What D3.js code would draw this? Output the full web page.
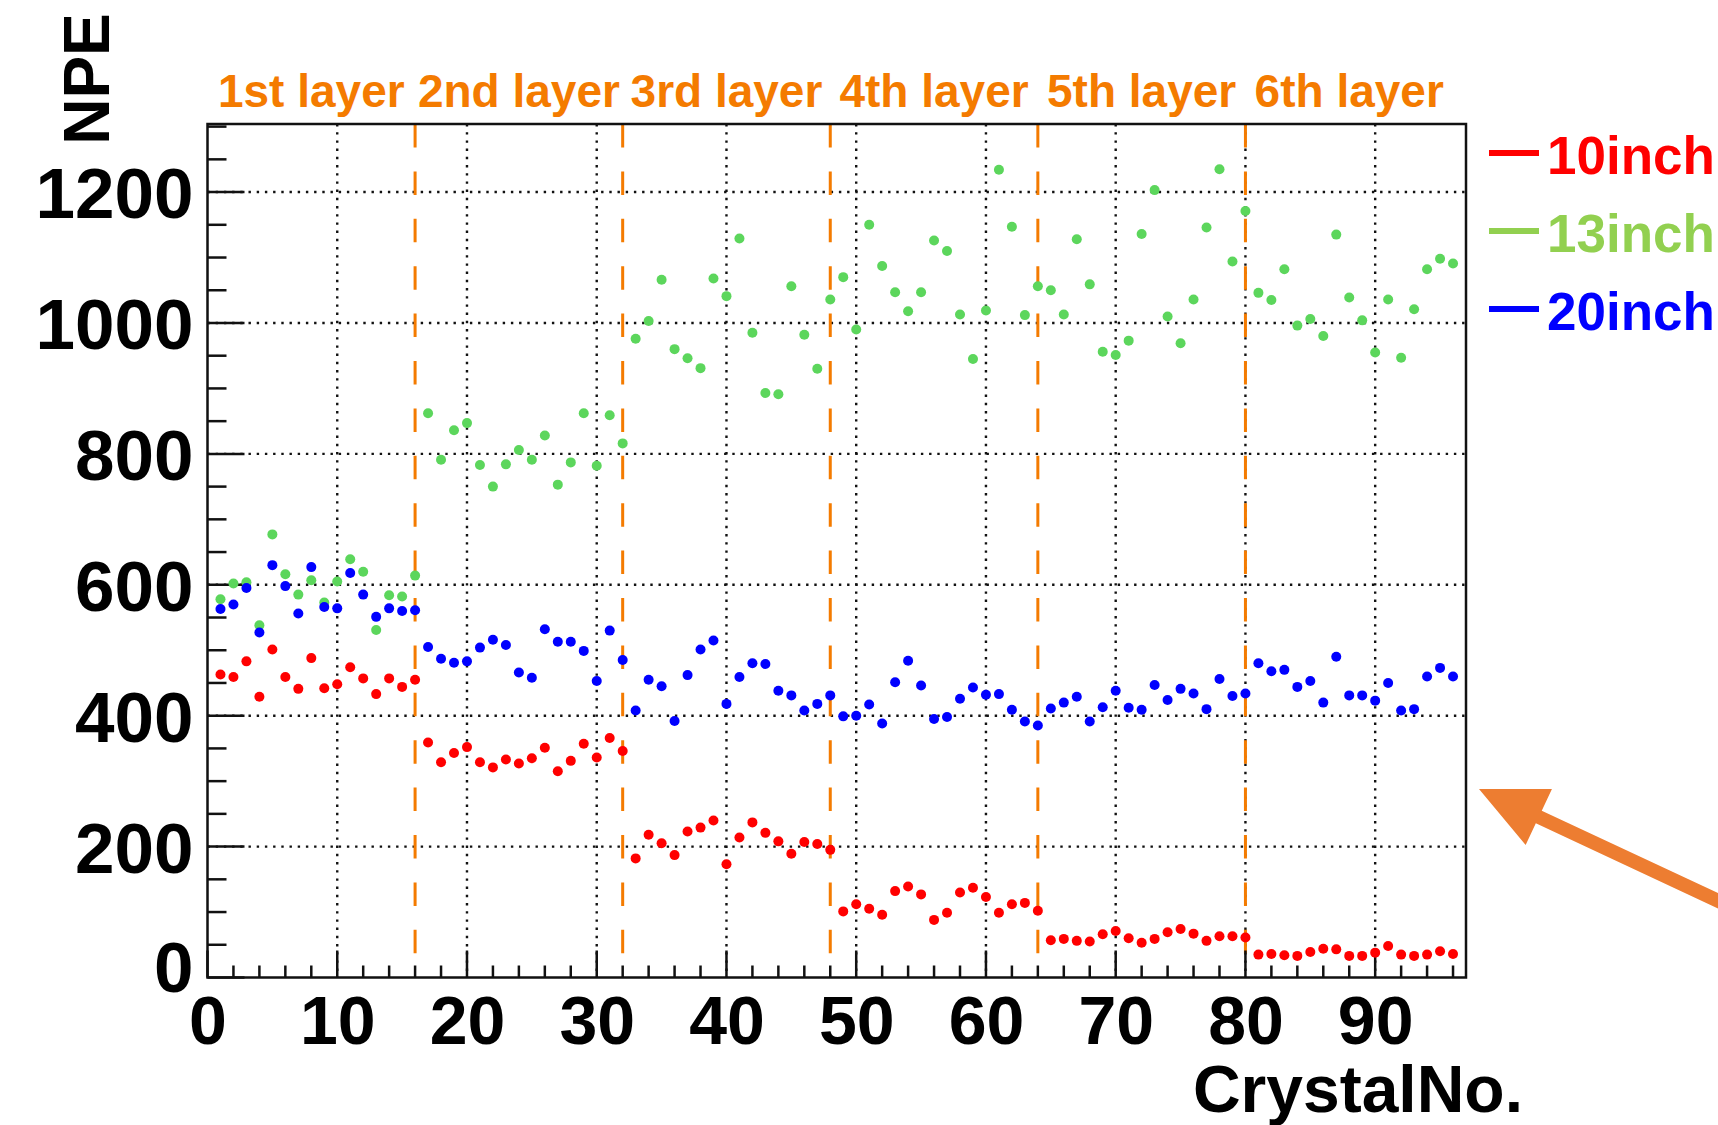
<!DOCTYPE html>
<html><head><meta charset="utf-8">
<script src="https://cdn.jsdelivr.net/npm/d3@7"></script>
<style>html,body{margin:0;padding:0;background:#fff;} svg{display:block;}</style>
</head><body>
<svg id="chart" width="1718" height="1125"></svg>
<script>
// ---------------- data ----------------
const crystalNo = d3.range(1, 97);
const npe10inch = [
  463, 459, 483, 429, 501, 459, 441, 488, 442, 448, 474, 457, 433, 457, 444, 455,
  359, 329, 343, 352, 329, 321, 333, 327, 335, 351, 315, 331, 357, 336, 366, 346,
  182, 218, 205, 187, 223, 229, 240, 173, 214, 237, 221, 208, 189, 207, 204, 195,
  101, 112, 105, 96, 132, 139, 127, 88, 99, 130, 137, 123, 99, 112, 114, 102,
  57, 59, 56, 55, 66, 71, 60, 53, 59, 69, 74, 67, 56, 63, 63, 61,
  35, 36, 34, 33, 39, 44, 43, 33, 33, 38, 48, 35, 33, 35, 40, 36
];
const npe13inch = [
  578, 602, 604, 538, 677, 616, 585, 607, 573, 605, 639, 620, 531, 584, 582, 614,
  862, 791, 836, 847, 783, 750, 784, 806, 791, 828, 753, 787, 862, 782, 859, 816,
  976, 1003, 1066, 960, 946, 931, 1068, 1041, 1129, 985, 893, 891, 1056, 982, 930, 1036,
  1070, 990, 1150, 1087, 1047, 1018, 1047, 1126, 1110, 1013, 945, 1019, 1234, 1147, 1012, 1056,
  1050, 1013, 1128, 1059, 956, 951, 973, 1136, 1203, 1010, 969, 1036, 1146, 1235, 1094, 1171,
  1046, 1035, 1082, 996, 1006, 980, 1135, 1039, 1004, 955, 1036, 947, 1021, 1082, 1098, 1091
];
const npe20inch = [
  563, 570, 595, 527, 630, 598, 556, 627, 566, 564, 618, 585, 551, 564, 560, 561,
  505, 487, 481, 483, 504, 516, 508, 466, 458, 532, 513, 513, 499, 453, 530, 485,
  408, 455, 445, 392, 462, 501, 515, 418, 459, 480, 479, 438, 431, 408, 418, 431,
  399, 400, 417, 388, 451, 484, 446, 395, 398, 426, 443, 432, 433, 409, 391, 385,
  411, 420, 429, 391, 413, 438, 412, 409, 447, 424, 441, 434, 410, 456, 430, 434,
  480, 468, 470, 444, 453, 420, 490, 431, 431, 423, 450, 408, 410, 460, 473, 460
];
const seriesNames = ["10inch", "13inch", "20inch"];
const layerLabels = ["1st layer", "2nd layer", "3rd layer", "4th layer", "5th layer", "6th layer"];
const layerBoundaries = [16, 32, 48, 64, 80];
const layerCenters = [8, 24, 40, 56, 72, 88];
const yTickValues = [0, 200, 400, 600, 800, 1000, 1200];
const xTickValues = [0, 10, 20, 30, 40, 50, 60, 70, 80, 90];

// ---------------- styles ----------------
const pointColors = {"10inch": "#ff0000", "13inch": "#5cd65c", "20inch": "#0000ff"};
const legendColors = {"10inch": "#ff0000", "13inch": "#92d050", "20inch": "#0000ff"};
const orange = "#f47b00";
const arrowColor = "#ed7d31";
const fontAxis = "'Liberation Sans', Arial, sans-serif";

const W = 1718, H = 1125;
const plot = {left: 207.5, right: 1466, top: 124, bottom: 977.5};

const x = d3.scaleLinear().domain([0, 97]).range([plot.left, plot.right]);
const y = d3.scaleLinear().domain([0, 1304]).range([plot.bottom, plot.top]);

const svg = d3.select("#chart");
svg.append("rect").attr("width", W).attr("height", H).attr("fill", "#fff");

// grid (dotted)
const grid = svg.append("g");
grid.selectAll("line.gx").data(xTickValues.filter(d => d > 0)).join("line")
  .attr("x1", d => x(d)).attr("x2", d => x(d))
  .attr("y1", plot.top).attr("y2", plot.bottom)
  .attr("stroke", "#111").attr("stroke-width", 2.4).attr("stroke-dasharray", "2.4,5.8");
grid.selectAll("line.gy").data(yTickValues.filter(d => d > 0)).join("line")
  .attr("x1", plot.left).attr("x2", plot.right)
  .attr("y1", d => y(d)).attr("y2", d => y(d))
  .attr("stroke", "#111").attr("stroke-width", 2.4).attr("stroke-dasharray", "2.4,5.8");

// layer boundaries (orange dashed)
svg.append("g").selectAll("line").data(layerBoundaries).join("line")
  .attr("x1", d => x(d)).attr("x2", d => x(d))
  .attr("y1", plot.top).attr("y2", plot.bottom)
  .attr("stroke", orange).attr("stroke-width", 3).attr("stroke-dasharray", "23.5,23.9");

// ticks
const ticks = svg.append("g").attr("stroke", "#111").attr("stroke-width", 2.5);
const yMinor = d3.range(0, 1301, 50);
ticks.selectAll("line.ty").data(yMinor).join("line")
  .attr("x1", plot.left).attr("x2", d => plot.left + (d % 200 === 0 ? 37 : 19))
  .attr("y1", d => y(d)).attr("y2", d => y(d));
const xMinor = d3.range(0, 97, 2);
ticks.selectAll("line.tx").data(xMinor).join("line")
  .attr("x1", d => x(d)).attr("x2", d => x(d))
  .attr("y1", plot.bottom).attr("y2", d => plot.bottom - (d % 10 === 0 ? 27 : 12));

// frame
svg.append("rect")
  .attr("x", plot.left).attr("y", plot.top)
  .attr("width", plot.right - plot.left).attr("height", plot.bottom - plot.top)
  .attr("fill", "none").attr("stroke", "#111").attr("stroke-width", 2.5);

// data points
const series = [
  {name: "13inch", values: npe13inch},
  {name: "20inch", values: npe20inch},
  {name: "10inch", values: npe10inch}
];
series.forEach(s => {
  svg.append("g").selectAll("circle").data(crystalNo).join("circle")
    .attr("cx", (d) => x(d))
    .attr("cy", (d, i) => y(s.values[i]))
    .attr("r", 5)
    .attr("fill", pointColors[s.name]);
});

// y axis labels
const yAxis = d3.axisLeft(y).tickValues(yTickValues).tickSize(0).tickPadding(14).tickFormat(d3.format("d"));
const gy = svg.append("g").attr("transform", `translate(${plot.left},0)`).call(yAxis);
gy.select(".domain").remove();
gy.selectAll("text")
  .attr("font-family", fontAxis).attr("font-weight", "bold").attr("font-size", 71)
  .attr("fill", "#000").attr("dy", d => d === 0 ? "0.2em" : "0.36em");

// x axis labels
const xAxis = d3.axisBottom(x).tickValues(xTickValues).tickSize(0).tickPadding(18).tickFormat(d3.format("d"));
const gx = svg.append("g").attr("transform", `translate(0,${plot.bottom})`).call(xAxis);
gx.select(".domain").remove();
gx.selectAll("text")
  .attr("font-family", fontAxis).attr("font-weight", "bold").attr("font-size", 68)
  .attr("fill", "#000").attr("dy", "0.72em");

// axis titles
svg.append("text").text("CrystalNo.")
  .attr("x", 1523).attr("y", 1112)
  .attr("text-anchor", "end")
  .attr("font-family", fontAxis).attr("font-weight", "bold").attr("font-size", 66).attr("fill", "#000");
svg.append("text").text("NPE")
  .attr("transform", "translate(109,79) rotate(-90)")
  .attr("text-anchor", "middle")
  .attr("font-family", fontAxis).attr("font-weight", "bold").attr("font-size", 64).attr("fill", "#000");

// layer labels
svg.append("g").selectAll("text").data(layerCenters).join("text")
  .text((d, i) => layerLabels[i])
  .attr("x", d => x(d)).attr("y", 107)
  .attr("text-anchor", "middle")
  .attr("font-family", fontAxis).attr("font-weight", "bold").attr("font-size", 46)
  .attr("fill", orange);

// legend
const legend = svg.append("g");
const legendY = d3.scalePoint().domain(seriesNames).range([153, 309]);
legend.selectAll("line").data(seriesNames).join("line")
  .attr("x1", 1489).attr("x2", 1539)
  .attr("y1", d => legendY(d)).attr("y2", d => legendY(d))
  .attr("stroke", d => legendColors[d]).attr("stroke-width", 6);
legend.selectAll("text").data(seriesNames).join("text")
  .text(d => d)
  .attr("x", 1547).attr("y", d => legendY(d) + 21)
  .attr("font-family", fontAxis).attr("font-weight", "bold").attr("font-size", 53)
  .attr("fill", d => legendColors[d]);

// annotation arrow
const tip = [x(97) + 13, y(288)];
const dir = [0.906, 0.424];
const perp = [-dir[1], dir[0]];
const headLen = 66, headHalf = 31, shaftHalf = 7, tailLen = 300;
const bc = [tip[0] + dir[0] * headLen, tip[1] + dir[1] * headLen];
const tl = [tip[0] + dir[0] * tailLen, tip[1] + dir[1] * tailLen];
const pts = [
  tip,
  [bc[0] + perp[0] * headHalf, bc[1] + perp[1] * headHalf],
  [bc[0] + perp[0] * shaftHalf, bc[1] + perp[1] * shaftHalf],
  [tl[0] + perp[0] * shaftHalf, tl[1] + perp[1] * shaftHalf],
  [tl[0] - perp[0] * shaftHalf, tl[1] - perp[1] * shaftHalf],
  [bc[0] - perp[0] * shaftHalf, bc[1] - perp[1] * shaftHalf],
  [bc[0] - perp[0] * headHalf, bc[1] - perp[1] * headHalf]
];
svg.append("path").attr("d", d3.line()(pts) + "Z").attr("fill", arrowColor);
</script>
</body></html>
